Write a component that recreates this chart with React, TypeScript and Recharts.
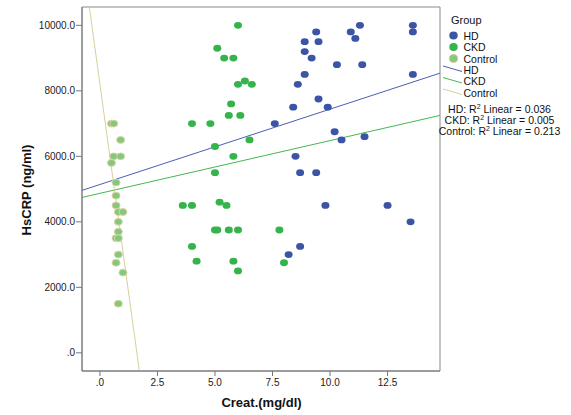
import React from 'react'
import { ScatterChart, Scatter, XAxis, YAxis, ReferenceLine, ReferenceArea } from 'recharts'

// values
const hdCreat = [9.4, 8.9, 9.5, 8.9, 9.2, 10.9, 11.3, 11.1, 10.3, 11.4, 13.6, 13.6, 13.6, 8.9, 8.6, 9.5, 8.4, 9.9, 7.6, 10.2, 10.5, 11.5, 8.5, 8.7, 9.4, 9.8, 12.5, 13.5, 8.7, 8.2]
const hdCrp = [9800, 9500, 9500, 9200, 9000, 9800, 10000, 9600, 8800, 8800, 10000, 9800, 8500, 8500, 8200, 7750, 7500, 7500, 7000, 6750, 6500, 6600, 6000, 5500, 5500, 4500, 4500, 4000, 3250, 3000]

const ckdCreat = [6.0, 5.1, 5.4, 5.8, 6.0, 6.3, 6.6, 5.7, 5.6, 6.1, 4.0, 4.8, 6.5, 5.0, 5.8, 5.0, 3.6, 4.0, 5.2, 5.5, 5.0, 5.1, 5.6, 6.0, 4.0, 4.2, 5.8, 6.0, 7.8, 8.0]
const ckdCrp = [10000, 9300, 9000, 9000, 8200, 8300, 8200, 7600, 7250, 7250, 7000, 7000, 6500, 6300, 6000, 5500, 4500, 4500, 4600, 4500, 3750, 3750, 3750, 3750, 3250, 2800, 2800, 2500, 3750, 2750]

const controlCreat = [0.5, 0.6, 0.9, 0.6, 0.9, 0.5, 0.7, 0.7, 0.7, 0.8, 1.0, 0.8, 0.8, 0.7, 0.8, 0.8, 0.7, 1.0, 0.8]
const controlCrp = [7000, 7000, 6500, 6000, 6000, 5800, 5200, 4800, 4500, 4300, 4300, 4000, 3700, 3500, 3500, 3000, 2750, 2450, 1500]

const groups = ['HD', 'CKD', 'Control']
const fitIntercepts = [5140, 4870, 8200]
const fitSlopes = [230, 161, -5110]
const rSquared = ['0.036', '0.005', '0.213']

const xTicks = [0, 2.5, 5, 7.5, 10, 12.5]
const yTicks = [0, 2000, 4000, 6000, 8000, 10000]

const X_MIN = -0.78
const X_MAX = 14.78
const Y_MIN = -555
const Y_MAX = 10560

const dotFill = ['#3b54a5', '#34b44a', '#86c77e']
const dotStroke = ['none', 'none', '#d9d3a2']
const lineColor = ['#4a5fb5', '#45b84f', '#d6d09a']
const FONT = '"Liberation Sans", Arial, sans-serif'

const toPoints = (xs: number[], ys: number[]) => xs.map((x, i) => ({ x, y: ys[i] }))
const series = [toPoints(hdCreat, hdCrp), toPoints(ckdCreat, ckdCrp), toPoints(controlCreat, controlCrp)]

// keep the fit line inside the plot box
function clipLine(a: number, b: number) {
  let xa = X_MIN
  let xb = X_MAX
  if (b !== 0) {
    const x1 = (Y_MIN - a) / b
    const x2 = (Y_MAX - a) / b
    xa = Math.max(xa, Math.min(x1, x2))
    xb = Math.min(xb, Math.max(x1, x2))
  }
  return [{ x: xa, y: a + b * xa }, { x: xb, y: a + b * xb }]
}

const fmt = (v: number) => {
  const s = v.toFixed(1)
  return s.startsWith('0') ? s.slice(1) : s
}

const makeDot = (i: number) => (props: any) => (
  <ellipse cx={props.cx} cy={props.cy} rx={4} ry={3.4} fill={dotFill[i]} stroke={dotStroke[i]} strokeWidth={1} />
)

function Overlay() {
  return (
    <svg width={571} height={415} style={{ position: 'absolute', left: 0, top: 0, pointerEvents: 'none' }} fontFamily={FONT}>
      <text x={261.5} y={407} textAnchor='middle' fontSize={13} fontWeight='bold' fill='#111'>Creat.(mg/dl)</text>
      <text x={0} y={0} transform='translate(31,190) rotate(-90)' textAnchor='middle' fontSize={13} fontWeight='bold' fill='#111'>HsCRP (ng/ml)</text>

      <text x={451} y={24} fontSize={11} fill='#111'>Group</text>
      {groups.map((g, i) => (
        <g key={'d' + g}>
          <ellipse cx={453.5} cy={35.5 + i * 11.5} rx={4.2} ry={4} fill={dotFill[i]} stroke={dotStroke[i]} />
          <text x={463.5} y={39.5 + i * 11.5} fontSize={10.5} fill='#111'>{g}</text>
        </g>
      ))}
      {groups.map((g, i) => (
        <g key={'l' + g}>
          <line x1={443} y1={66 + i * 11.5} x2={462} y2={71.5 + i * 11.5} stroke={lineColor[i]} strokeWidth={1} />
          <text x={463.5} y={73.5 + i * 11.5} fontSize={10.5} fill='#111'>{g}</text>
        </g>
      ))}
      {groups.map((g, i) => (
        <text key={'r' + g} x={499.5} y={112.5 + i * 11} textAnchor='middle' fontSize={10.5} fill='#111'>
          {g}: R<tspan dy={-4} fontSize={7}>2</tspan><tspan dy={4}> Linear = {rSquared[i]}</tspan>
        </text>
      ))}
    </svg>
  )
}

export default function App() {
  return (
    <div style={{ position: 'absolute', left: 0, top: 0, width: 571, height: 415, background: '#fff' }}>
      <ScatterChart width={571} height={415} margin={{ top: 7, right: 131, bottom: 0, left: 0 }}>
        <XAxis
          type='number'
          dataKey='x'
          domain={[X_MIN, X_MAX]}
          allowDataOverflow
          ticks={xTicks}
          tickFormatter={fmt}
          height={44}
          tickSize={5}
          tickMargin={3}
          stroke='#777'
          tick={{ fill: '#222', fontSize: 10, fontFamily: FONT }}
        />
        <YAxis
          type='number'
          dataKey='y'
          domain={[Y_MIN, Y_MAX]}
          allowDataOverflow
          ticks={yTicks}
          tickFormatter={fmt}
          width={82}
          tickSize={6}
          tickMargin={1}
          stroke='#777'
          tick={{ fill: '#222', fontSize: 10, fontFamily: FONT }}
        />
        <ReferenceArea x1={X_MIN} x2={X_MAX} y1={Y_MIN} y2={Y_MAX} fill='none' stroke='#888' strokeWidth={1} fillOpacity={0} />
        {groups.map((g, i) => (
          <ReferenceLine
            key={'fit' + g}
            segment={clipLine(fitIntercepts[i], fitSlopes[i])}
            stroke={lineColor[i]}
            strokeWidth={1}
            ifOverflow='hidden'
          />
        ))}
        {groups.map((g, i) => (
          <Scatter key={g} name={g} data={series[i]} shape={makeDot(i)} isAnimationActive={false} />
        ))}
      </ScatterChart>
      <Overlay />
    </div>
  )
}
